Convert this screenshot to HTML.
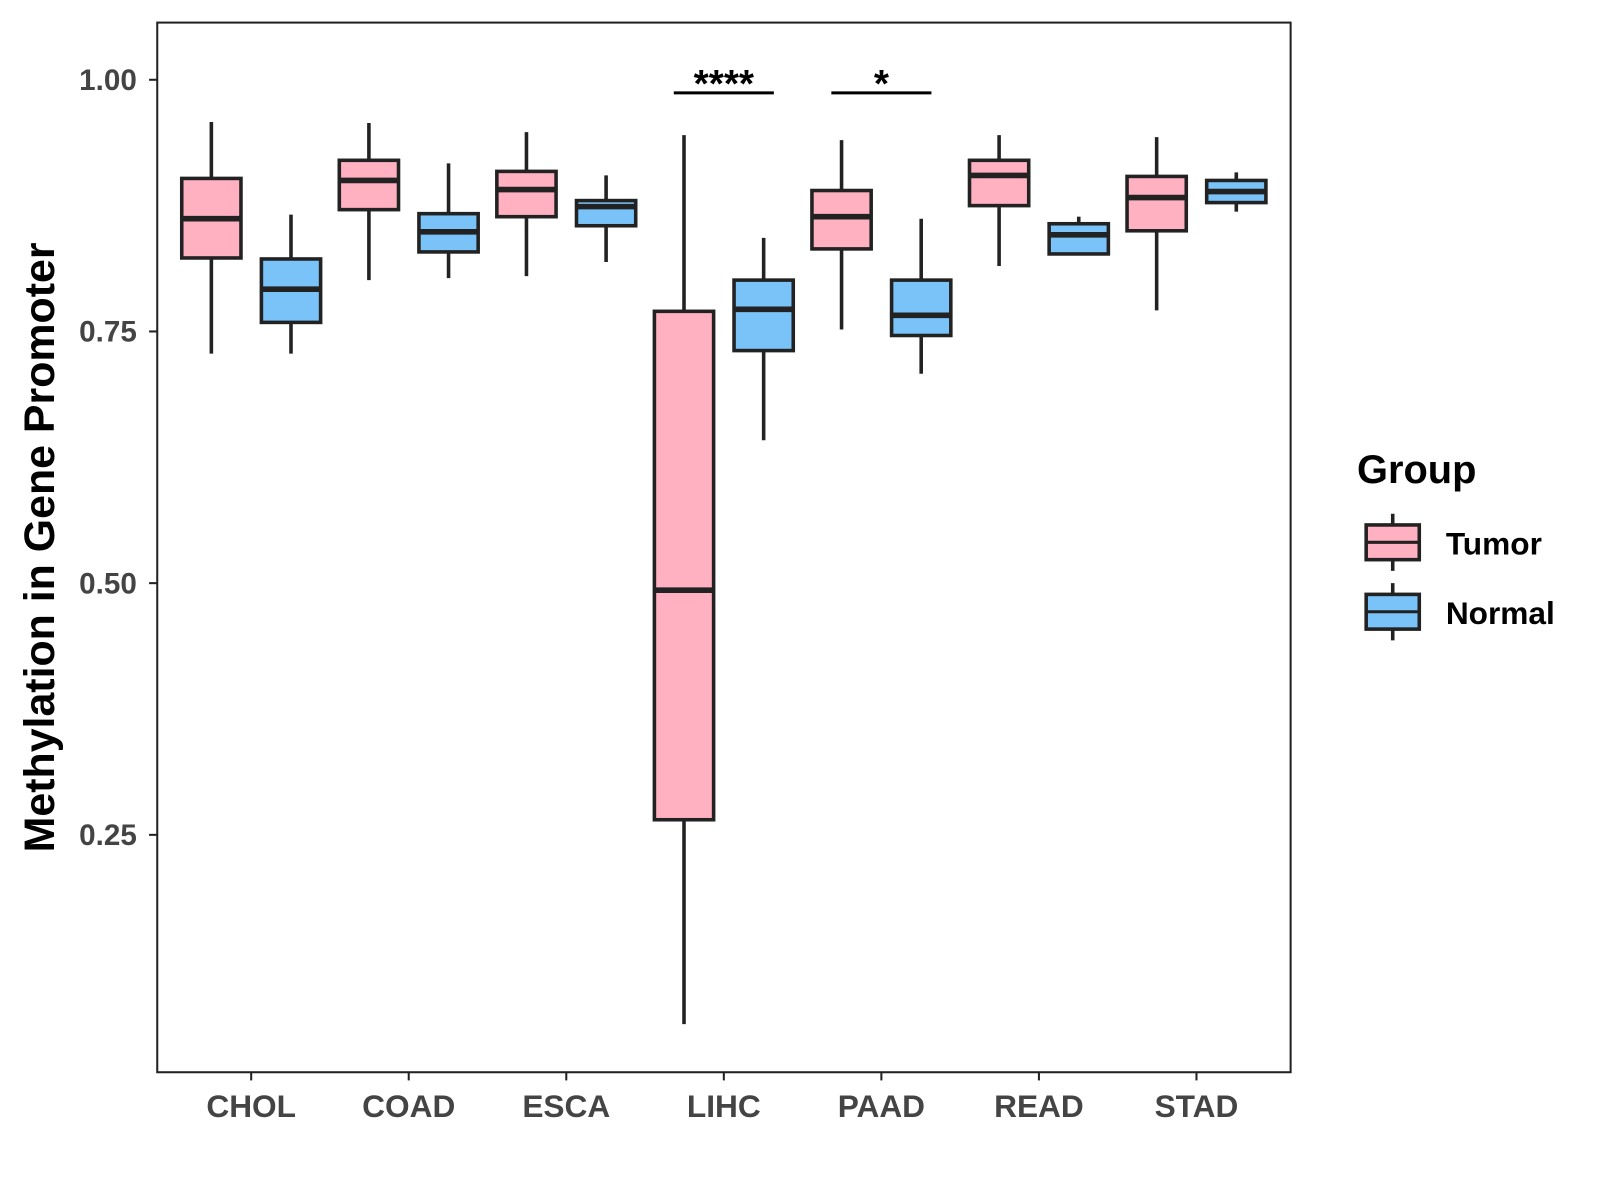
<!DOCTYPE html>
<html><head><meta charset="utf-8"><style>body{margin:0;background:#fff}svg{display:block;font-family:"Liberation Sans",Arial,sans-serif}</style></head>
<body>
<svg id="chart" width="1600" height="1200" viewBox="0 0 1567 1175">
<rect x="0" y="0" width="1567" height="1175" fill="#fff"/>
<rect x="154" y="22" width="1110" height="1028" fill="#fff" stroke="#222" stroke-width="2"/>
<g id="marks"></g>
<text transform="translate(53,536) rotate(-90)" text-anchor="middle" font-size="42" font-weight="bold" fill="#000">Methylation in Gene Promoter</text>
<g>
<text x="1329" y="473" font-size="39" font-weight="bold">Group</text>
<g>
<line x1="1364" y1="503" x2="1364" y2="559" stroke="#222" stroke-width="3.5"/>
<rect x="1338" y="514" width="52" height="34" fill="#FFB0C1" stroke="#222" stroke-width="3.5"/>
<line x1="1338" y1="531" x2="1390" y2="531" stroke="#222" stroke-width="3"/>
<text x="1416" y="543" font-size="31" font-weight="bold">Tumor</text></g>
<g>
<line x1="1364" y1="571" x2="1364" y2="627" stroke="#222" stroke-width="3.5"/>
<rect x="1338" y="582" width="52" height="34" fill="#79C3F8" stroke="#222" stroke-width="3.5"/>
<line x1="1338" y1="599" x2="1390" y2="599" stroke="#222" stroke-width="3"/>
<text x="1416" y="611" font-size="31" font-weight="bold">Normal</text></g>
</g>
</svg>
<script>
const categories=["CHOL","COAD","ESCA","LIHC","PAAD","READ","STAD"];
const tumorMin=[0.728,0.801,0.805,0.062,0.752,0.815,0.771];
const tumorQ1=[0.823,0.871,0.864,0.265,0.832,0.875,0.850];
const tumorMed=[0.862,0.900,0.891,0.493,0.864,0.905,0.883];
const tumorQ3=[0.902,0.920,0.909,0.770,0.890,0.920,0.904];
const tumorMax=[0.958,0.957,0.948,0.945,0.940,0.945,0.943];
const normalMin=[0.728,0.803,0.819,0.642,0.708,0.827,0.869];
const normalQ1=[0.759,0.829,0.855,0.731,0.746,0.827,0.878];
const normalMed=[0.792,0.849,0.874,0.772,0.766,0.846,0.889];
const normalQ3=[0.822,0.867,0.880,0.801,0.801,0.857,0.900];
const normalMax=[0.866,0.917,0.905,0.843,0.862,0.864,0.908];
const yTicks=[0.25,0.5,0.75,1.0];
const yTickLabels=["0.25","0.50","0.75","1.00"];
const sigCats=["LIHC","PAAD"];
const sigLabels=["****","*"];
const sigLevel=[0.987,0.987];

const NS="http://www.w3.org/2000/svg";
const g=document.getElementById("marks");
const y=v=>78+(1-v)*986;
const x=i=>246+i*154.3;
function el(t,a){const e=document.createElementNS(NS,t);for(const k in a)e.setAttribute(k,a[k]);g.appendChild(e);return e;}
yTicks.forEach((v,i)=>{
 const t=el("line",{x1:146,x2:154,y1:y(v),y2:y(v),stroke:"#222","stroke-width":2});
 
 
 const l=el("text",{x:134,y:y(v)+10,"text-anchor":"end","font-size":29,"font-weight":"bold",fill:"#444"});
 l.textContent=yTickLabels[i];
 
 
});
categories.forEach((c,i)=>{
 const t=el("line",{x1:x(i),x2:x(i),y1:1050,y2:1058,stroke:"#222","stroke-width":2});
 
 
 const l=el("text",{x:x(i),y:1094,"text-anchor":"middle","font-size":31,"font-weight":"bold",fill:"#444"});
 l.textContent=c;
 
 
 [[-39,"#FFB0C1",tumorMin,tumorQ1,tumorMed,tumorQ3,tumorMax,"tumor"],[39,"#79C3F8",normalMin,normalQ1,normalMed,normalQ3,normalMax,"normal"]].forEach(s=>{
  const cx=x(i)+s[0];
  const w=el("line",{x1:cx,x2:cx,y1:y(s[6][i]),y2:y(s[2][i]),stroke:"#222","stroke-width":3.5});
  
  
  const b=el("rect",{x:cx-29,y:y(s[5][i]),width:58,height:y(s[3][i])-y(s[5][i]),fill:s[1],stroke:"#222","stroke-width":3.5});
  
  
  const m=el("line",{x1:cx-29,x2:cx+29,y1:y(s[4][i]),y2:y(s[4][i]),stroke:"#222","stroke-width":5.5});
  
  
 });
});
sigCats.forEach((c,j)=>{
 const i=categories.indexOf(c);
 const ln=el("line",{x1:x(i)-49,x2:x(i)+49,y1:y(sigLevel[j]),y2:y(sigLevel[j]),stroke:"#000","stroke-width":3});
 
 
 const t=el("text",{x:x(i),y:y(sigLevel[j])+4,"text-anchor":"middle","font-size":38,"font-weight":"bold"});
 t.textContent=sigLabels[j];
 
 
});
</script>
</body></html>
